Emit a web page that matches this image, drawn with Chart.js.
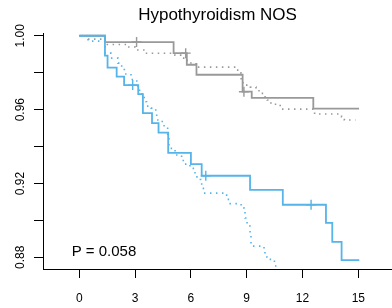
<!DOCTYPE html>
<html>
<head>
<meta charset="utf-8">
<script src="https://cdn.jsdelivr.net/npm/chart.js@4"></script>
<style>
  html, body { margin: 0; padding: 0; background: #fff; }
</style>
</head>
<body>
<canvas id="chart" width="392" height="308"></canvas>
<script>
// Survival curves for "Hypothyroidism NOS": two groups, observed (solid) vs expected (dotted)
const chartTitle = "Hypothyroidism NOS"
const pValueText = "P = 0.058"
const pValuePos = [-0.41, 0.8831]

const xTicks = [0, 3, 6, 9, 12, 15]
const yTicks = [0.88, 0.90, 0.92, 0.94, 0.96, 0.98, 1.00]
const yTickLabels = ["0.88", "", "0.92", "", "0.96", "", "1.00"]

// blue group, observed
const blueTime = [0, 1.38, 1.52, 2.01, 2.41, 3.17, 3.42, 3.91, 4.26, 4.78, 6.0, 6.58, 9.18, 10.94, 13.26, 13.6, 14.1, 15.05]
const blueSurv = [1, 0.9893, 0.9828, 0.9779, 0.9733, 0.9684, 0.9581, 0.9527, 0.9476, 0.9366, 0.9305, 0.9242, 0.9166, 0.9085, 0.8987, 0.8884, 0.8785, 0.8785]
const blueCensorTime = [2.87, 6.8, 12.46]
const blueCensorSurv = [0.9733, 0.9242, 0.9085]

// blue group, expected
const blueExpTime = [0, 0.47, 1.38, 1.70, 2.08, 2.28, 2.42, 2.78, 2.96, 3.14, 3.24, 3.37, 3.49, 3.62, 3.85, 4.11, 4.16, 4.46, 4.75, 4.82, 5.15, 5.5, 5.59, 5.95, 6.13, 6.22, 6.4, 6.53, 6.58, 6.67, 7.78, 7.92, 8.06, 8.7, 8.85, 8.91, 9.02, 9.18, 9.23, 9.93, 9.98, 10.09, 10.49, 10.62]
const blueExpSurv = [1, 0.9971, 0.9906, 0.9879, 0.9852, 0.9836, 0.9793, 0.9763, 0.9755, 0.9722, 0.9695, 0.9684, 0.9643, 0.9619, 0.9608, 0.958, 0.9544, 0.9513, 0.9453, 0.939, 0.9354, 0.9331, 0.9305, 0.9282, 0.9258, 0.9236, 0.9222, 0.9201, 0.9174, 0.9148, 0.9137, 0.9114, 0.9091, 0.9069, 0.9051, 0.9013, 0.897, 0.8921, 0.8861, 0.8834, 0.8802, 0.8789, 0.8753, 0.8753]

// gray group, observed
const grayTime = [0, 1.38, 5.07, 5.78, 6.3, 8.78, 9.27, 12.58, 15.04]
const graySurv = [1, 0.9966, 0.9906, 0.9843, 0.9789, 0.9697, 0.9664, 0.9605, 0.9605]
const grayCensorTime = [3.08, 5.72, 8.85]
const grayCensorSurv = [0.9966, 0.9906, 0.9697]

// gray group, expected
const grayExpTime = [0, 0.4, 1.38, 2.56, 3.0, 3.53, 5.14, 5.45, 5.8, 6.0, 6.3, 8.4, 8.6, 8.7, 8.8, 9.2, 9.5, 9.75, 9.9, 10.1, 10.3, 10.8, 12.55, 12.65, 14.1, 14.25, 14.85]
const grayExpSurv = [1, 0.9982, 0.9953, 0.9939, 0.9923, 0.9905, 0.9895, 0.9879, 0.9863, 0.9848, 0.983, 0.9814, 0.9798, 0.976, 0.9733, 0.9722, 0.9702, 0.9688, 0.967, 0.9652, 0.9629, 0.9603, 0.9585, 0.9576, 0.9561, 0.9544, 0.9544]

const BLUE = "#56B4E9"
const GRAY = "#999999"
const FONT = "'Liberation Sans', Arial, Helvetica, sans-serif"

const toPoints = (xs, ys) => xs.map((x, i) => ({ x: x, y: ys[i] }))

const stepLine = (label, xs, ys, color, dotted) => ({
  label: label,
  data: toPoints(xs, ys),
  borderColor: color,
  borderWidth: dotted ? 1.6 : 1.8,
  borderDash: dotted ? [1.5, 4.5] : [],
  stepped: true,
  pointRadius: 0,
  fill: false
})

const censorMarks = (label, xs, ys, color) => ({
  type: "scatter",
  label: label,
  data: toPoints(xs, ys),
  borderColor: color,
  backgroundColor: color,
  pointStyle: "cross",
  pointRadius: 5,
  borderWidth: 1.4,
  showLine: false
})

// p-value text, placed in data coordinates
const pValuePlugin = {
  id: "pValue",
  afterDatasetsDraw(chart) {
    const ctx = chart.ctx
    const x = chart.scales.x.getPixelForValue(pValuePos[0])
    const y = chart.scales.y.getPixelForValue(pValuePos[1])
    ctx.save()
    ctx.font = "15px " + FONT
    ctx.fillStyle = "#000"
    ctx.textAlign = "left"
    ctx.textBaseline = "middle"
    ctx.fillText(pValueText, x, y)
    ctx.restore()
  }
}

const chart = new Chart(document.getElementById("chart"), {
  type: "line",
  data: {
    datasets: [
      stepLine("Blue observed", blueTime, blueSurv, BLUE, false),
      censorMarks("Blue censored", blueCensorTime, blueCensorSurv, BLUE),
      stepLine("Blue expected", blueExpTime, blueExpSurv, BLUE, true),
      stepLine("Gray observed", grayTime, graySurv, GRAY, false),
      censorMarks("Gray censored", grayCensorTime, grayCensorSurv, GRAY),
      stepLine("Gray expected", grayExpTime, grayExpSurv, GRAY, true)
    ]
  },
  options: {
    responsive: false,
    animation: false,
    devicePixelRatio: 1,
    layout: { padding: 0, autoPadding: false },
    plugins: {
      legend: { display: false },
      tooltip: { enabled: false },
      title: {
        display: true,
        text: chartTitle,
        fullSize: false,
        color: "#000",
        font: { family: FONT, size: 17, weight: "normal" },
        padding: { top: 5, bottom: 7.6 }
      }
    },
    scales: {
      x: {
        type: "linear",
        min: -1.95,
        max: 16.81,
        afterBuildTicks: s => { s.ticks = xTicks.map(v => ({ value: v })) },
        afterFit: s => {
          s.height = 39
          s.paddingLeft = 0
          s.paddingRight = 0
        },
        grid: { drawOnChartArea: false, tickLength: 9, tickColor: "#000", tickWidth: 1 },
        border: { color: "#000", width: 1 },
        ticks: {
          color: "#000",
          font: { family: FONT, size: 12 },
          padding: 13,
          maxRotation: 0,
          autoSkip: false
        }
      },
      y: {
        type: "linear",
        min: 0.8737,
        max: 1.0015,
        afterBuildTicks: s => { s.ticks = yTicks.map(v => ({ value: v })) },
        afterFit: s => {
          s.width = 43
          s.paddingTop = 0
          s.paddingBottom = 0
        },
        grid: { drawOnChartArea: false, tickLength: 9, tickColor: "#000", tickWidth: 1 },
        border: { color: "#000", width: 1 },
        ticks: {
          color: "#000",
          font: { family: FONT, size: 12 },
          padding: 2,
          minRotation: 90,
          maxRotation: 90,
          crossAlign: "center",
          autoSkip: false,
          callback: (v, i) => yTickLabels[i]
        }
      }
    }
  },
  plugins: [pValuePlugin]
})
</script>
</body>
</html>
